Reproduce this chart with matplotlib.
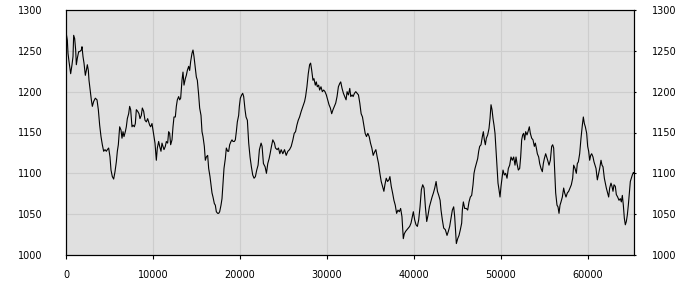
import matplotlib
matplotlib.use("Agg")
import matplotlib.pyplot as plt

# values, (sample, level)
x_vals = [
    0, 153, 230, 345, 536, 690, 805, 881, 996, 1111, 1188, 1303, 1456, 1571, 1762, 1839,
    1954, 2069, 2222, 2337, 2452, 2567, 2643, 2797, 2912, 3027, 3180, 3371, 3563, 3716,
    3869, 4023, 4176, 4329, 4482, 4636, 4751, 4904, 5057, 5172, 5325, 5478, 5632, 5785,
    5900, 6015, 6168, 6321, 6436, 6551, 6666, 6819, 6934, 7049, 7202, 7317, 7432, 7585,
    7700, 7854, 7969, 8084, 8237, 8390, 8505, 8658, 8773, 8926, 9080, 9233, 9386, 9501,
    9616, 9731, 9884, 9999, 10114, 10229, 10382, 10497, 10650, 10765, 10918, 11033, 11148,
    11263, 11416, 11531, 11684, 11799, 11914, 12029, 12183, 12298, 12413, 12566, 12681,
    12796, 12949, 13064, 13179, 13332, 13447, 13562, 13716, 13831, 13946, 14099, 14214,
    14329, 14482, 14597, 14712, 14865, 14980, 15095, 15248, 15363, 15517, 15632, 15747,
    15900, 16015, 16130, 16283, 16398, 16551, 16666, 16781, 16896, 17049, 17164, 17279,
    17432, 17547, 17662, 17815, 17930, 18045, 18160, 18313, 18428, 18582, 18697, 18812,
    18965, 19080, 19195, 19348, 19463, 19578, 19693, 19846,
    19923, 20038, 20192, 20308, 20423, 20577, 20692, 20846, 21000, 21154, 21308, 21461,
    21615, 21769, 21923, 22077, 22231, 22423, 22538, 22692, 22885, 23038, 23192, 23346,
    23461, 23615, 23769, 23962, 24077, 24269, 24423, 24577, 24731, 24923, 25115, 25308,
    25500, 25692, 25885, 26077, 26231, 26385, 26538, 26692, 26846, 27038, 27231, 27423,
    27538, 27692, 27846, 28000, 28115, 28231, 28385, 28500, 28654, 28769, 28885, 29038,
    29154, 29308, 29462, 29615, 29769, 29923, 30077, 30231, 30385, 30538, 30692, 30846,
    31000, 31154, 31308, 31462, 31577, 31731, 31885, 32038, 32192, 32308, 32462, 32615,
    32731, 32885, 33000, 33154, 33308, 33462, 33615, 33769, 33923, 34077, 34231, 34385,
    34538, 34692, 34846, 35000, 35154, 35308, 35462, 35615, 35769, 35923, 36077, 36231,
    36385, 36538, 36654, 36808, 36962, 37115, 37231, 37385, 37538, 37692, 37846, 38000,
    38154, 38308, 38462, 38615, 38769, 38885, 39038, 39192, 39346, 39500, 39654, 39808,
    39923, 40077, 40231, 40385, 40538, 40692, 40846, 41000, 41154, 41308, 41462, 41615,
    41769, 41923, 42077, 42231, 42385, 42538, 42692, 42846, 43000,
    43104, 43257, 43411, 43602, 43794, 43947, 44100, 44253, 44407, 44560, 44675, 44790,
    44866, 45020, 45173, 45326, 45479, 45556, 45671, 45824, 46016, 46169, 46322, 46475,
    46628, 46782, 46897, 47012, 47165, 47318, 47433, 47548, 47701, 47855, 47970, 48085,
    48200, 48314, 48467, 48621, 48736, 48851, 48966, 49081, 49195, 49310, 49425, 49540,
    49655, 49770, 49885, 50000, 50115, 50230, 50383, 50536, 50690, 50843, 50996, 51149,
    51303, 51456, 51609, 51724, 51839, 51992, 52145, 52260, 52375, 52490, 52605, 52720,
    52835, 52988, 53103, 53256, 53371, 53525, 53678, 53831, 53946, 54061, 54176, 54329,
    54444, 54597, 54750, 54865, 54980, 55134, 55249, 55364, 55517, 55670, 55823, 55938,
    56053, 56168, 56283, 56436, 56551, 56666, 56781, 56896, 57049, 57202, 57317, 57470,
    57623, 57777, 57930, 58083, 58237, 58352, 58505, 58658, 58773, 58888, 59041, 59194,
    59348, 59463, 59578, 59693, 59846, 59961, 60076, 60191, 60306, 60421, 60574, 60689,
    60804, 60919, 61072, 61187, 61341, 61494, 61609, 61724, 61877, 61991, 62106, 62259,
    62374, 62489, 62642, 62757, 62872, 62987, 63140, 63255, 63408, 63562, 63715, 63830,
    63945, 64060, 64175, 64289, 64404, 64519, 64634, 64749, 64864, 64979, 65094, 65209,
    65286,
]

y_vals = [
    1273, 1263, 1247, 1237, 1222, 1233, 1243, 1269, 1265, 1251, 1233, 1241, 1249, 1249, 1251, 1255,
    1243, 1235, 1220, 1226, 1233, 1226, 1214, 1200, 1190, 1182, 1188, 1192, 1190, 1178,
    1159, 1145, 1135, 1127, 1129, 1127, 1129, 1131, 1120, 1104, 1096, 1093, 1102, 1114,
    1127, 1135, 1157, 1153, 1143, 1151, 1145, 1151, 1157, 1167, 1173, 1182, 1178, 1157,
    1159, 1157, 1161, 1178, 1176, 1173, 1167, 1171, 1180, 1176, 1165, 1163, 1167, 1163,
    1159, 1157, 1161, 1153, 1145, 1137, 1116, 1131, 1139, 1133, 1127, 1137, 1133,
    1129, 1133, 1139, 1137, 1151, 1149, 1135, 1141, 1157, 1169, 1169, 1182,
    1190, 1194, 1190, 1192, 1214, 1224, 1208, 1216, 1220, 1226, 1231, 1226,
    1237, 1247, 1251, 1243, 1229, 1218, 1214, 1196, 1180, 1171, 1151, 1145,
    1133, 1116, 1120, 1122, 1106, 1096, 1086, 1076, 1071, 1063, 1061, 1053,
    1051, 1051, 1053, 1061, 1069, 1088, 1106, 1118, 1131, 1127, 1127, 1135,
    1139, 1141, 1139, 1139, 1141, 1151, 1163, 1171,
    1182, 1192, 1196, 1198, 1194, 1178, 1169, 1165, 1137, 1120, 1108, 1098,
    1094, 1096, 1104, 1110, 1129, 1137, 1133, 1112, 1108, 1100, 1112, 1118,
    1124, 1133, 1141, 1137, 1131, 1129, 1131, 1124, 1129, 1124, 1129, 1122,
    1127, 1129, 1133, 1141, 1149, 1151, 1159, 1165, 1169, 1176, 1182, 1188,
    1194, 1206, 1222, 1233, 1235, 1227, 1214, 1216, 1208, 1212, 1206, 1208,
    1202, 1206, 1200, 1202, 1200, 1196, 1190, 1184, 1180, 1173, 1178, 1182,
    1186, 1194, 1206, 1210, 1212, 1204, 1198, 1194, 1190, 1200, 1196, 1204,
    1194, 1196, 1194, 1198, 1200, 1198, 1196, 1186, 1173, 1169, 1159, 1149,
    1145, 1149, 1145, 1137, 1131, 1122, 1126, 1129, 1120, 1112, 1100, 1090,
    1084, 1078, 1086, 1094, 1090, 1092, 1096, 1084, 1076, 1067, 1061, 1051,
    1055, 1053, 1057, 1047, 1020, 1026, 1029, 1031, 1033, 1035, 1039, 1047,
    1053, 1043, 1037, 1035, 1043, 1059, 1080, 1086, 1082, 1059, 1041, 1049,
    1059, 1065, 1071, 1076, 1082, 1090, 1078, 1073, 1067,
    1055, 1043, 1033, 1031, 1024, 1029, 1035, 1045, 1055, 1059, 1047, 1027,
    1014, 1020, 1024, 1031, 1039, 1055, 1065, 1057, 1057, 1055, 1065, 1071,
    1073, 1086, 1100, 1106, 1112, 1118, 1127, 1133, 1135, 1145, 1151, 1141,
    1135, 1143, 1147, 1155, 1167, 1184, 1178, 1167, 1159, 1149, 1129, 1108,
    1088, 1080, 1071, 1084, 1094, 1104, 1098, 1100, 1094, 1106, 1110, 1120,
    1116, 1120, 1110, 1120, 1112, 1104, 1106, 1120, 1141, 1147, 1149, 1141,
    1151, 1147, 1151, 1157, 1149, 1143, 1141, 1133, 1137, 1131, 1124, 1120,
    1112, 1106, 1102, 1112, 1118, 1124, 1120, 1116, 1110, 1116, 1133, 1135,
    1131, 1104, 1076, 1061, 1059, 1051, 1061, 1065, 1071, 1082, 1076, 1071,
    1076, 1078, 1082, 1086, 1094, 1110, 1106, 1100, 1112, 1114, 1124, 1143,
    1159, 1169, 1161, 1157, 1149, 1133, 1127, 1116, 1122, 1124, 1120, 1114,
    1110, 1106, 1092, 1098, 1106, 1116, 1110, 1108, 1094, 1088, 1082, 1076,
    1071, 1082, 1088, 1084, 1078, 1086, 1084, 1074, 1071, 1067, 1069, 1065,
    1073, 1061, 1045, 1037, 1041, 1049, 1061, 1076, 1090, 1094, 1098, 1101,
    1100,
]

x_ticks = [0, 10000, 20000, 30000, 40000, 50000, 60000]
y_ticks = [1000, 1050, 1100, 1150, 1200, 1250, 1300]

fig = plt.figure(figsize=(7, 3), dpi=100)
ax = fig.add_axes([66 / 700, 45 / 300, 568 / 700, 245 / 300])
ax.set_facecolor("#e0e0e0")

ax.plot(x_vals, y_vals, color="black", linewidth=0.8)

ax.set_xlim(0, x_vals[-1])
ax.set_ylim(1000, 1300)
ax.set_xticks(x_ticks)
ax.set_yticks(y_ticks)
ax.grid(True, color="#cdcdcd", linewidth=0.8)
ax.set_axisbelow(True)

for s in ax.spines.values():
    s.set_color("black")
    s.set_linewidth(0.8)

ax.tick_params(axis="x", length=3, width=0.8, pad=8, labelsize=7)
# left labels: no tick marks, set well away from the spine
ax.tick_params(axis="y", left=False, length=0, pad=17, labelsize=7)

# right side: short outward ticks with their own labels
ax2 = ax.twinx()
ax2.set_ylim(ax.get_ylim())
ax2.set_yticks(y_ticks)
ax2.tick_params(axis="y", length=1.5, width=0.8, pad=11.5, labelsize=7)
for s in ax2.spines.values():
    s.set_color("black")
    s.set_linewidth(0.8)

plt.savefig("out.png", dpi=100)
plt.close()
